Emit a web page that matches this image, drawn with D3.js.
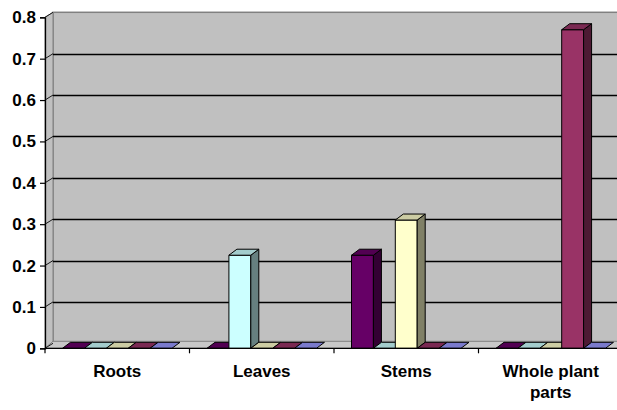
<!DOCTYPE html>
<html>
<head>
<meta charset="utf-8">
<script src="https://cdn.jsdelivr.net/npm/d3@7"></script>
<style>
  html, body { margin: 0; padding: 0; background: #fff; }
  svg { display: block; }
  text { font-family: "Liberation Sans", Arial, sans-serif; font-weight: bold; fill: #000; }
</style>
</head>
<body>
<svg id="chart" width="617" height="410"></svg>
<script>
// Plant parts on the category axis, five series per part
const categories = ["Roots", "Leaves", "Stems", "Whole plant parts"];
const series = ["s1", "s2", "s3", "s4", "s5"];
const values = [
  [0, 0, 0, 0, 0],          // Roots
  [0, 0.225, 0, 0, 0],      // Leaves
  [0.225, 0, 0.31, 0, 0],   // Stems
  [0, 0, 0, 0.77, 0]        // Whole plant parts
];
const yTicks = [0, 0.1, 0.2, 0.3, 0.4, 0.5, 0.6, 0.7, 0.8];

// Face colours per series (front); top and side faces are darker shades
const front = ["#660066", "#ccffff", "#ffffcc", "#993366", "#9999ff"];
const shade = (c, k) => { const r = d3.rgb(c); return d3.rgb(r.r * k, r.g * k, r.b * k).formatHex(); };

const svg = d3.select("#chart");
const plotLeft = 45, plotBottom = 348.3, plotTop = 17.3;
const catW = 144.5;
const dx = 8, dy = 6;       // depth offset of the bars
const wdx = 8, wdy = 5;     // depth offset of the back wall
const fontSize = 17;

const x0 = d3.scaleBand().domain(categories).range([plotLeft, plotLeft + catW * categories.length]).padding(0);
const x1 = d3.scaleBand().domain(series).range([0, x0.bandwidth()]).paddingInner(0).paddingOuter(0.8);
const y = d3.scaleLinear().domain([0, 0.8]).range([plotBottom, plotTop]);
const plotRight = plotLeft + catW * categories.length;

// Back wall and side wall
svg.append("rect")
  .attr("x", plotLeft + wdx).attr("y", y(0.8) - wdy)
  .attr("width", plotRight - plotLeft).attr("height", y(0) - y(0.8))
  .attr("fill", "#c0c0c0").attr("stroke", "#808080").attr("stroke-width", 1.5);
svg.append("path")
  .attr("d", `M${plotLeft},${y(0.8)} L${plotLeft + wdx},${y(0.8) - wdy} L${plotLeft + wdx},${y(0) - wdy} L${plotLeft},${y(0)} Z`)
  .attr("fill", "#c0c0c0").attr("stroke", "#808080").attr("stroke-width", 1);

// Floor
svg.append("path")
  .attr("d", `M${plotLeft},${y(0)} L${plotLeft + wdx},${y(0) - 7} L${plotRight + wdx},${y(0) - 7} L${plotRight},${y(0)} Z`)
  .attr("fill", "#c8c8c8").attr("stroke", "#808080").attr("stroke-width", 1);

// Gridlines on the back wall plus their diagonals on the side wall
const grid = svg.append("g");
yTicks.filter(t => t > 0 && t < 0.8).forEach(t => {
  const gy = Math.round(y(t) - wdy) + 0.5;
  grid.append("line")
    .attr("x1", plotLeft + wdx).attr("x2", plotRight + wdx)
    .attr("y1", gy).attr("y2", gy)
    .attr("stroke", "#000").attr("stroke-width", 1.3);
});
yTicks.forEach(t => {
  grid.append("line")
    .attr("x1", plotLeft).attr("y1", y(t))
    .attr("x2", plotLeft + wdx).attr("y2", y(t) - wdy)
    .attr("stroke", "#1a1a1a").attr("stroke-width", 1);
});

// Columns: front face, side face, top face
const bars = svg.append("g");
categories.forEach((c, ci) => {
  series.forEach((s, si) => {
    const v = values[ci][si];
    const bx = x0(c) + x1(s), bw = x1.bandwidth();
    const yt = y(v), yb = y(0);
    const g = bars.append("g").attr("stroke", "#000").attr("stroke-width", 1).attr("stroke-linejoin", "round");
    if (v > 0) {
      g.append("rect").attr("x", bx).attr("y", yt).attr("width", bw).attr("height", yb - yt)
        .attr("fill", front[si]);
      g.append("path")
        .attr("d", `M${bx + bw},${yt} L${bx + bw + dx},${yt - dy} L${bx + bw + dx},${yb - dy} L${bx + bw},${yb} Z`)
        .attr("fill", shade(front[si], 0.5));
    }
    g.append("path")
      .attr("d", `M${bx},${yt} L${bx + dx},${yt - dy} L${bx + bw + dx},${yt - dy} L${bx + bw},${yt} Z`)
      .attr("fill", shade(front[si], 0.8));
  });
});

// Value axis
const yAxis = svg.append("g").attr("transform", `translate(${plotLeft},0)`)
  .call(d3.axisLeft(y).tickValues(yTicks).tickFormat(d => d === 0 ? "0" : d3.format(".1f")(d)).tickSize(5).tickPadding(4));
yAxis.select(".domain").attr("stroke", "#000").attr("stroke-width", 1.3);
yAxis.selectAll(".tick line").attr("stroke", "#000").attr("stroke-width", 1.2);
yAxis.selectAll(".tick text").attr("font-size", fontSize).attr("font-family", "Liberation Sans, Arial, sans-serif").attr("font-weight", "bold").attr("fill", "#000");

// Category axis
const xAxis = svg.append("g").attr("transform", `translate(0,${plotBottom})`);
xAxis.append("line").attr("x1", plotLeft).attr("x2", plotRight).attr("y1", 0).attr("y2", 0)
  .attr("stroke", "#000").attr("stroke-width", 1.3);
d3.range(categories.length + 1).forEach(i => {
  const xb = plotLeft + i * catW;
  xAxis.append("line").attr("x1", xb).attr("x2", xb).attr("y1", 0).attr("y2", 5).attr("stroke", "#000").attr("stroke-width", 1.2);
});
const labelLines = { "Whole plant parts": ["Whole plant", "parts"] };
categories.forEach(c => {
  const lines = labelLines[c] || [c];
  const t = xAxis.append("text")
    .attr("x", x0(c) + x0.bandwidth() / 2).attr("y", 28.5)
    .attr("text-anchor", "middle").attr("font-size", fontSize);
  lines.forEach((ln, i) => t.append("tspan").attr("x", x0(c) + x0.bandwidth() / 2).attr("dy", i === 0 ? 0 : 21.5).text(ln));
});
</script>
</body>
</html>
